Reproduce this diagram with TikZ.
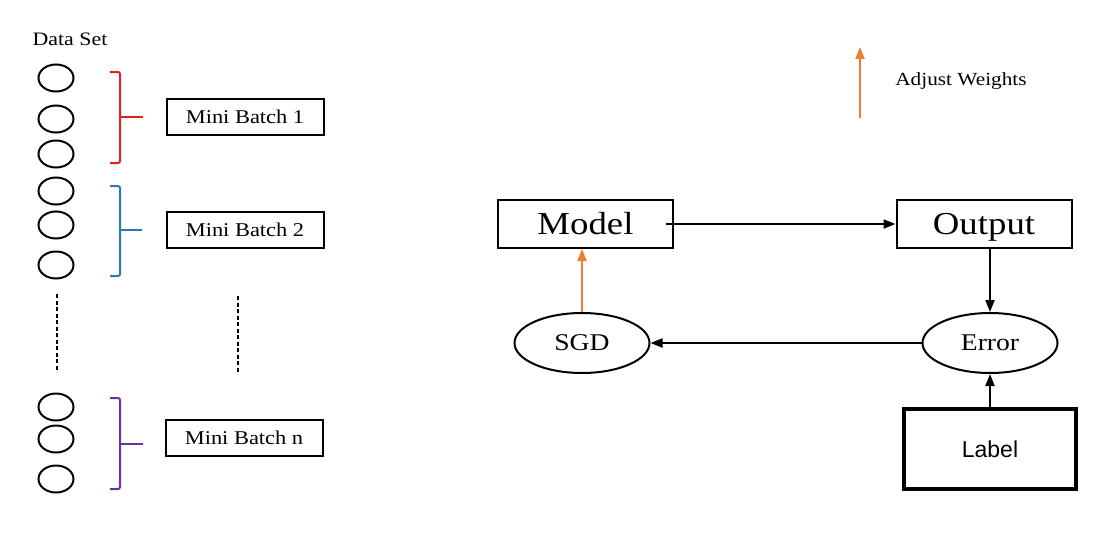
\documentclass[tikz,border=0pt]{standalone}
\usepackage{fontspec}
\setmainfont{Liberation Serif}[FakeStretch=1.15]
\setsansfont{Liberation Sans}
\usetikzlibrary{shapes.geometric,arrows.meta}
\definecolor{batchred}{RGB}{224,32,32}
\definecolor{batchblue}{RGB}{46,117,182}
\definecolor{batchpurple}{RGB}{112,48,160}
\definecolor{adjorange}{RGB}{237,125,49}

\begin{document}
\begin{tikzpicture}[x=1pt,y=-1pt,line width=2pt,
    sample/.style={ellipse,draw=black,minimum width=35pt,minimum height=27pt,inner sep=0pt},
    batch/.style={rectangle,draw=black,minimum width=157pt,minimum height=36pt,inner sep=0pt,font=\fontsize{19.5}{22}\selectfont},
    block/.style={rectangle,draw=black,minimum width=175pt,minimum height=48pt,inner sep=0pt,
        text height=21pt,text depth=0pt,font=\fontsize{32}{36}\selectfont},
    oval/.style={ellipse,draw=black,minimum width=135pt,minimum height=60pt,inner sep=0pt,font=\fontsize{24}{27}\selectfont},
    arr/.style={-{Triangle[length=12pt,width=9pt]}},
    dots/.style={dash pattern=on 4pt off 2.5pt}]
    \useasboundingbox (0,0) rectangle (1115,543);

    % Place the data set
    \node[font=\fontsize{19}{21}\selectfont] (ds) at (70,39) {Data Set};
    \node[sample] (s1) at (56,78) {};
    \node[sample] (s2) at (56,119) {};
    \node[sample] (s3) at (56,154) {};
    \node[sample] (s4) at (56,191) {};
    \node[sample] (s5) at (56,225) {};
    \node[sample] (s6) at (56,265) {};
    \node[sample] (s7) at (56,407) {};
    \node[sample] (s8) at (56,439) {};
    \node[sample] (s9) at (56,479) {};

    % Place the mini batches
    \node[batch] (b1) at (245,117) {Mini Batch 1};
    \node[batch] (b2) at (245,230) {Mini Batch 2};
    \node[batch] (bn) at (244,438) {Mini Batch n};

    % The brackets and dots
    \draw[batchred,rounded corners=2pt] (110,72) -- (120,72) -- (120,163) -- (110,163);
    \draw[batchred] (120,117) -- (143,117);
    \draw[batchblue,rounded corners=2pt] (110,186) -- (120,186) -- (120,276) -- (110,276);
    \draw[batchblue] (120,230) -- (142,230);
    \draw[batchpurple,rounded corners=2pt] (110,398) -- (120,398) -- (120,489) -- (110,489);
    \draw[batchpurple] (120,444) -- (143,444);
    \draw[dots] (57,294) -- (57,372);
    \draw[dots] (238,296) -- (238,374);

    % Place the training loop
    \node[block] (model) at (585.5,224) {Model};
    \node[block] (out) at (984,224) {Output};
    \node[oval] (sgd) at (582,343) {SGD};
    \node[oval] (err) at (990,343) {Error};
    \node[rectangle,draw=black,line width=3.5pt,minimum width=172pt,minimum height=80pt,
        font=\sffamily\fontsize{23}{26}\selectfont] (lab) at (990,449) {Label};
    \coordinate (w0) at (860,118);
    \coordinate (w1) at (860,47);
    \node[font=\fontsize{18.5}{21}\selectfont] (adj) at (961,81) {Adjust Weights};

    % The arrows!
    \draw[arr] ([xshift=-8pt]model.east) -- (out.west);
    \draw[arr] (err.north |- out.south) -- (err.north);
    \draw[arr] (lab.north) -- (err.south);
    \draw[arr] (err.west) -- (sgd.east);
    \draw[arr,adjorange] (sgd.north) -- (sgd.north |- model.south);
    \draw[arr,adjorange] (w0) -- (w1);
\end{tikzpicture}
\end{document}
